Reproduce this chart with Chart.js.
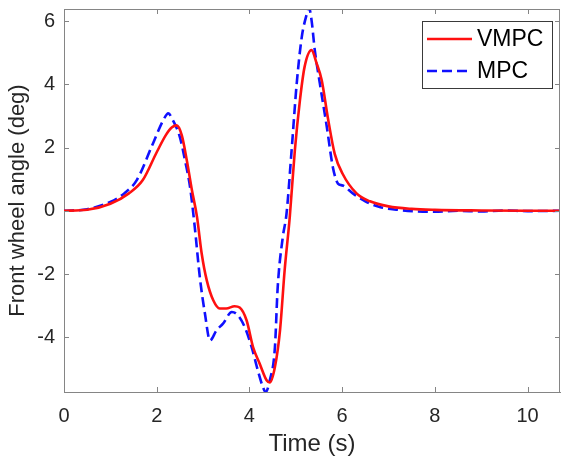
<!DOCTYPE html>
<html>
<head>
<meta charset="utf-8">
<script src="https://cdn.jsdelivr.net/npm/chart.js@4/dist/chart.umd.min.js"></script>
<style>
  html, body { margin: 0; padding: 0; background: #fff; }
  #wrap { width: 564px; height: 459px; }
</style>
</head>
<body>
<div id="wrap"><canvas id="chart" width="564" height="459"></canvas></div>
<script>
// values
var vmpcT = [0, 0.5, 1.0, 1.4, 1.7, 2.0, 2.2, 2.33, 2.43, 2.54, 2.65, 2.76, 2.87, 2.97, 3.08, 3.22, 3.36, 3.5, 3.68, 3.79, 3.94, 4.08, 4.22, 4.37, 4.44, 4.55, 4.66, 4.76, 4.87, 4.98, 5.09, 5.19, 5.34, 5.45, 5.56, 5.69, 5.84, 6.01, 6.31, 6.6, 7.0, 7.5, 8.0, 9.0, 10.0, 10.7];
var vmpcY = [0, 0.03, 0.22, 0.55, 0.97, 1.85, 2.4, 2.64, 2.7, 2.39, 1.59, 0.65, -0.2, -1.35, -2.2, -2.83, -3.09, -3.09, -3.02, -3.06, -3.47, -4.32, -4.83, -5.36, -5.43, -4.94, -3.78, -1.88, -0.2, 1.91, 3.5, 4.55, 5.08, 4.66, 4.13, 2.96, 1.8, 1.17, 0.55, 0.3, 0.14, 0.06, 0.03, 0.01, 0, 0];

var mpcT = [0, 0.5, 1.0, 1.3, 1.57, 1.92, 2.14, 2.25, 2.35, 2.5, 2.61, 2.72, 2.82, 2.93, 3.04, 3.15, 3.29, 3.43, 3.62, 3.75, 3.9, 4.05, 4.18, 4.29, 4.35, 4.44, 4.55, 4.61, 4.72, 4.8, 4.91, 5.02, 5.13, 5.24, 5.28, 5.34, 5.41, 5.52, 5.67, 5.8, 5.91, 6.01, 6.23, 6.5, 6.81, 7.2, 7.6, 8.0, 8.5, 9.0, 9.5, 10.0, 10.7];
var mpcY = [0, 0.05, 0.28, 0.55, 0.97, 2.13, 2.86, 3.08, 2.86, 2.33, 1.6, 0.74, -0.5, -2.1, -3.25, -4.1, -3.78, -3.57, -3.2, -3.3, -3.68, -4.32, -5.04, -5.57, -5.73, -5.36, -4.32, -2.42, -0.83, -0.1, 1.91, 4.02, 5.5, 6.24, 6.45, 6.03, 5.08, 4.02, 2.65, 1.38, 0.86, 0.8, 0.55, 0.3, 0.12, 0.03, -0.02, -0.03, 0.0, -0.02, 0.01, -0.01, 0.0];

var xTicks = [0, 2, 4, 6, 8, 10];
var yTicks = [-4, -2, 0, 2, 4, 6];
var seriesNames = ['VMPC', 'MPC'];

var axisColor = '#858585';
var textColor = '#262626';
var fontFam = '"Liberation Sans", Arial, sans-serif';

function pts(t, y) {
    return t.map(function (v, i) { return {x: v, y: y[i]}; });
}

// box, inward ticks and legend, MATLAB style
var boxPlugin = {
    id: 'box',
    afterDatasetsDraw: function (chart) {
        var ctx = chart.ctx, a = chart.chartArea;
        var xs = chart.scales.x, ys = chart.scales.y;
        ctx.save();
        ctx.strokeStyle = axisColor;
        ctx.lineWidth = 1;
        ctx.beginPath();
        ctx.moveTo(a.left, a.top + 0.5); ctx.lineTo(a.right, a.top + 0.5);
        ctx.moveTo(a.right - 0.5, a.top); ctx.lineTo(a.right - 0.5, a.bottom);
        xTicks.forEach(function (v) {
            var px = Math.round(xs.getPixelForValue(v)) + 0.5;
            ctx.moveTo(px, a.bottom); ctx.lineTo(px, a.bottom - 5);
            ctx.moveTo(px, a.top); ctx.lineTo(px, a.top + 5);
        });
        yTicks.forEach(function (v) {
            var py = Math.round(ys.getPixelForValue(v)) + 0.5;
            ctx.moveTo(a.left, py); ctx.lineTo(a.left + 5, py);
            ctx.moveTo(a.right, py); ctx.lineTo(a.right - 5, py);
        });
        ctx.stroke();

        // legend
        var lx = 422, ly = 21, lw = 130, lh = 67;
        ctx.fillStyle = '#fff';
        ctx.fillRect(lx, ly, lw, lh);
        ctx.strokeStyle = '#3a3a3a';
        ctx.strokeRect(lx + 0.5, ly + 0.5, lw, lh);
        ctx.font = '23px ' + fontFam;
        ctx.textBaseline = 'middle';
        ctx.fillStyle = '#000';
        chart.data.datasets.forEach(function (ds, i) {
            var y = ly + 18 + i * 32;
            ctx.strokeStyle = ds.borderColor;
            ctx.lineWidth = ds.borderWidth;
            ctx.setLineDash(ds.borderDash || []);
            ctx.beginPath();
            ctx.moveTo(lx + 5, y); ctx.lineTo(lx + 50, y);
            ctx.stroke();
            ctx.setLineDash([]);
            ctx.fillText(ds.label, lx + 55, y + 1);
        });
        ctx.restore();
    }
};

var chart = new Chart(document.getElementById('chart'), {
    type: 'line',
    data: {
        datasets: [
            {
                label: seriesNames[0],
                data: pts(vmpcT, vmpcY),
                borderColor: '#ff1010',
                borderWidth: 2.6,
                pointRadius: 0,
                cubicInterpolationMode: 'monotone'
            },
            {
                label: seriesNames[1],
                data: pts(mpcT, mpcY),
                borderColor: '#1010ff',
                borderWidth: 2.6,
                borderDash: [10, 5],
                pointRadius: 0,
                cubicInterpolationMode: 'monotone'
            }
        ]
    },
    options: {
        responsive: false,
        animation: false,
        layout: {padding: {top: 9, right: 4, left: 0, bottom: 0}},
        plugins: {legend: {display: false}, tooltip: {enabled: false}},
        scales: {
            x: {
                type: 'linear',
                min: 0,
                max: 10.7,
                afterBuildTicks: function (s) { s.ticks = xTicks.map(function (v) { return {value: v}; }); },
                afterFit: function (s) { s.height = 67; s.paddingLeft = 0; s.paddingRight = 0; },
                grid: {display: false, drawTicks: false},
                border: {display: true, color: axisColor, width: 1},
                ticks: {color: textColor, font: {family: fontFam, size: 20}, padding: 12, maxRotation: 0},
                title: {display: true, text: 'Time (s)', color: textColor, font: {family: fontFam, size: 24}, padding: {top: 0, bottom: 0}}
            },
            y: {
                type: 'linear',
                min: -5.73,
                max: 6.38,
                afterBuildTicks: function (s) { s.ticks = yTicks.map(function (v) { return {value: v}; }); },
                afterFit: function (s) { s.width = 64; s.paddingTop = 0; s.paddingBottom = 0; },
                grid: {display: false, drawTicks: false},
                border: {display: true, color: axisColor, width: 1},
                ticks: {color: textColor, font: {family: fontFam, size: 20}, padding: 9},
                title: {display: true, text: 'Front wheel angle (deg)', color: textColor, font: {family: fontFam, size: 22}, padding: {top: 5, bottom: 0}}
            }
        }
    },
    plugins: [boxPlugin]
});
</script>
</body>
</html>
